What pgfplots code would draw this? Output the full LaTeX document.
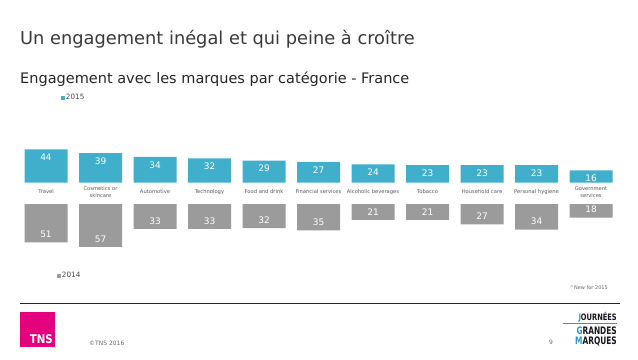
\documentclass[border=0pt]{standalone}
\usepackage{pgfplots}
\pgfplotsset{compat=1.18}
\usepackage{pgfplotstable}
\usepackage{fontspec}
\setmainfont{DejaVu Sans}
\definecolor{tnsblue}{HTML}{40AFCC}
\definecolor{logoblue}{HTML}{2E95C8}
\definecolor{tnsgrey}{HTML}{9B9B9B}
\definecolor{tnspink}{HTML}{E5007E}
\definecolor{navy}{HTML}{15161E}
\definecolor{titlegrey}{HTML}{3A3A3A}

\pgfplotstableread{
x y
0 44
1 39
2 34
3 32
4 29
5 27
6 24
7 23
8 23
9 23
10 16
}\fifteen

\pgfplotstableread{
x y v
0 -51 51
1 -57 57
2 -33 33
3 -33 33
4 -32 32
5 -35 35
6 -21 21
7 -21 21
8 -27 27
9 -34 34
10 -18 18
}\fourteen

\begin{document}
\begin{tikzpicture}[x=1bp,y=1bp]
\path[use as bounding box, fill=white] (0,0) rectangle (638,359);

% titles
\node[anchor=base west, inner sep=0, text=titlegrey, font=\fontsize{17.8bp}{19bp}\selectfont] at (20,359-44) {Un engagement inégal et qui peine à croître};
\node[anchor=base west, inner sep=0, text=black!85, font=\fontsize{14.5bp}{16bp}\selectfont] at (20,359-83) {Engagement avec les marques par catégorie - France};

% legend entries
\node[anchor=west, inner sep=0, text=black!70, font=\fontsize{7.3bp}{8bp}\selectfont] at (61,359-97) {\textcolor{tnsblue}{\rule{3.5bp}{3.5bp}}\,2015};
\node[anchor=west, inner sep=0, text=black!70, font=\fontsize{7.3bp}{8bp}\selectfont] at (57,359-275) {\textcolor{tnsgrey}{\rule{3.5bp}{3.5bp}}\,2014};

% 2015 bars
\begin{axis}[
  at={(18.75bp,176.5bp)}, anchor=south west,
  scale only axis, width=599.5bp, height=37.5bp,
  xmin=-0.5, xmax=10.5, ymin=0, ymax=50,
  axis line style={draw=none}, major tick length=0pt,
  ytick=\empty, xtick={0,...,10},
  xticklabels={Travel,{Cosmetics or\\skincare},Automotive,Technology,Food and drink,Financial services,Alcoholic beverages,Tobacco,Household care,Personal hygiene,{Government\\services}},
  xticklabel style={anchor=center, yshift=-9.5bp, align=center, text=black!65, font=\fontsize{5.2bp}{6.8bp}\selectfont},
  ybar, bar width=43bp,
  /pgf/number format/assume math mode=true,
  nodes near coords, nodes near coords align={below},
  every node near coord/.append style={text=white, font=\fontsize{9bp}{10bp}\selectfont, yshift=-1bp},
  clip=false,
]
\addplot[fill=tnsblue, draw=none] table[x=x,y=y] {\fifteen};
\end{axis}

% 2014 bars
\begin{axis}[
  at={(18.75bp,155bp)}, anchor=north west,
  scale only axis, width=599.5bp, height=45bp,
  xmin=-0.5, xmax=10.5, ymin=-60, ymax=0,
  hide axis,
  ybar, bar width=43bp,
  /pgf/number format/assume math mode=true,
  point meta=explicit,
  nodes near coords, nodes near coords align={above},
  every node near coord/.append style={text=white, font=\fontsize{9bp}{10bp}\selectfont, yshift=1bp},
  clip=false,
]
\addplot[fill=tnsgrey, draw=none] table[x=x,y=y,meta=v] {\fourteen};
\end{axis}

% footnote
\node[anchor=base east, inner sep=0, text=black!60, font=\fontsize{5bp}{6bp}\selectfont] at (608,359-289) {\textasciicircum New for 2015};

% footer line
\draw[black!85, line width=0.8bp] (20,359-303) -- (620,359-303);

% TNS logo
\fill[tnspink] (20,359-347) rectangle (55,359-312);
\node[anchor=base east, inner sep=0, text=white, font=\bfseries\fontsize{12bp}{13bp}\selectfont] at (53,359-343) {\scalebox{0.85}[1]{TNS}};
\node[anchor=base west, inner sep=0, text=black!60, font=\fontsize{6bp}{7bp}\selectfont] at (89,359-345) {©TNS 2016};
\node[anchor=base west, inner sep=0, text=black!60, font=\fontsize{6bp}{7bp}\selectfont] at (549,359-344) {9};

% Journées Grandes Marques logo
\node[anchor=base east, inner sep=0, text=navy, font=\bfseries\fontsize{8.8bp}{9bp}\selectfont] at (617,359-320.5) {\scalebox{0.76}[1]{\textcolor{logoblue}{J}OURNÉES}};
\draw[logoblue, line width=0.8bp] (563,359-323.5) -- (617,359-323.5);
\node[anchor=base east, inner sep=0, text=navy, font=\bfseries\fontsize{10.3bp}{11bp}\selectfont] at (617,359-334) {\scalebox{0.72}[1]{\textcolor{logoblue}{G}RANDES}};
\node[anchor=base east, inner sep=0, text=navy, font=\bfseries\fontsize{10.3bp}{11bp}\selectfont] at (617,359-344) {\scalebox{0.72}[1]{\textcolor{logoblue}{M}ARQUES}};
\end{tikzpicture}
\end{document}
